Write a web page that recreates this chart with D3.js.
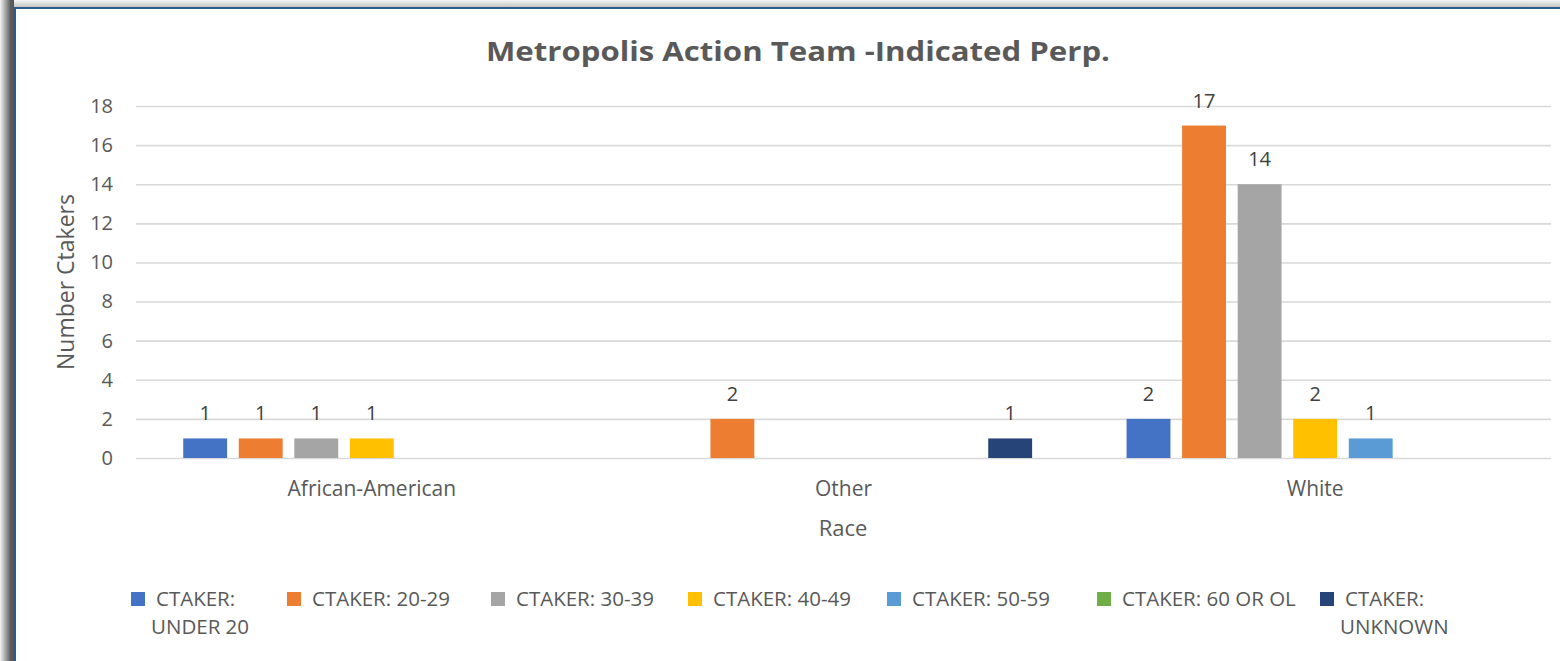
<!DOCTYPE html>
<html><head><meta charset="utf-8">
<script src="https://cdn.jsdelivr.net/npm/d3@7"></script>
<style>
body{margin:0;background:#fff;overflow:hidden;}
svg{display:block;}
text{font-family:"Open Sans",sans-serif;}
</style>
</head><body>
<svg id="chart" width="1560" height="661"></svg>
<script>
// ---------- data ----------
const categories = ["African-American", "Other", "White"];
const seriesNames = ["CTAKER: UNDER 20", "CTAKER: 20-29", "CTAKER: 30-39", "CTAKER: 40-49", "CTAKER: 50-59", "CTAKER: 60 OR OL", "CTAKER: UNKNOWN"];
const under20   = [1, null, 2];
const age20to29 = [1, 2, 17];
const age30to39 = [1, null, 14];
const age40to49 = [1, null, 2];
const age50to59 = [null, null, 1];
const age60plus = [null, null, null];
const unknownAge = [null, 1, null];
const seriesColors = ["#4472C4", "#ED7D31", "#A5A5A5", "#FFC000", "#5B9BD5", "#70AD47", "#264478"];
const legendLines = [["CTAKER:", "UNDER 20"], ["CTAKER: 20-29"], ["CTAKER: 30-39"], ["CTAKER: 40-49"], ["CTAKER: 50-59"], ["CTAKER: 60 OR OL"], ["CTAKER:", "UNKNOWN"]];
const yTicks = [0, 2, 4, 6, 8, 10, 12, 14, 16, 18];
const titleText = "Metropolis Action Team -Indicated Perp.";
const yTitle = "Number Ctakers";
const xTitle = "Race";

const seriesValues = [under20, age20to29, age30to39, age40to49, age50to59, age60plus, unknownAge];

// ---------- layout ----------
const svg = d3.select("#chart");
const plotLeft = 136, plotRight = 1551, plotTop = 106, plotBottom = 458;

// frame shadow + border
const defs = svg.append("defs");
const gl = defs.append("linearGradient").attr("id", "shL").attr("x1", "0").attr("x2", "1").attr("y1", "0").attr("y2", "0");
gl.append("stop").attr("offset", "0").attr("stop-color", "#f4f4f4");
gl.append("stop").attr("offset", "0.45").attr("stop-color", "#9a9a9a");
gl.append("stop").attr("offset", "0.75").attr("stop-color", "#5e5e5e");
gl.append("stop").attr("offset", "1").attr("stop-color", "#555");
const gt = defs.append("linearGradient").attr("id", "shT").attr("x1", "0").attr("x2", "0").attr("y1", "0").attr("y2", "1");
gt.append("stop").attr("offset", "0").attr("stop-color", "#f6f6f6");
gt.append("stop").attr("offset", "1").attr("stop-color", "#c4c4c4");

svg.append("rect").attr("x", 0).attr("y", 0).attr("width", 1560).attr("height", 7).attr("fill", "url(#shT)");
svg.append("rect").attr("x", 0).attr("y", 0).attr("width", 14).attr("height", 661).attr("fill", "url(#shL)");
svg.append("rect").attr("x", 13).attr("y", 7).attr("width", 1547).attr("height", 2).attr("fill", "#2d5b8a");
svg.append("rect").attr("x", 13).attr("y", 7).attr("width", 3).attr("height", 654).attr("fill", "#2d5b8a");

// scales
const x0 = d3.scaleBand().domain(categories).range([plotLeft, plotRight]).padding(0);
const x1 = d3.scaleBand().domain(seriesNames).range([0, x0.bandwidth()]).paddingInner(0.21).paddingOuter(0.85);
const y = d3.scaleLinear().domain([0, 18]).range([plotBottom, plotTop]);

// gridlines + y tick labels
const yAxis = svg.append("g").attr("transform", `translate(${plotLeft},0)`)
  .call(d3.axisLeft(y).tickValues(yTicks).tickSize(-(plotRight - plotLeft)).tickPadding(23));
yAxis.select(".domain").remove();
yAxis.selectAll(".tick line").attr("stroke", "#d9d9d9").attr("stroke-width", 1.6);
yAxis.selectAll(".tick text").attr("fill", "#595959").style("font-size", "20px").style("font-family", "'Open Sans',sans-serif");

// x category labels
const xAxis = svg.append("g").attr("transform", `translate(0,${plotBottom})`)
  .call(d3.axisBottom(x0).tickSize(0).tickPadding(23));
xAxis.select(".domain").remove();
xAxis.selectAll(".tick text").attr("fill", "#595959").style("font-size", "21px").style("font-family", "'Open Sans',sans-serif");

// bars
const rows = [];
seriesValues.forEach((vals, si) => {
  vals.forEach((v, ci) => {
    if (v !== null) rows.push({ cat: categories[ci], s: seriesNames[si], v: v, color: seriesColors[si] });
  });
});
svg.append("g").selectAll("rect").data(rows).join("rect")
  .attr("x", d => x0(d.cat) + x1(d.s))
  .attr("y", d => y(d.v))
  .attr("width", x1.bandwidth())
  .attr("height", d => y(0) - y(d.v))
  .attr("fill", d => d.color);

// data labels
svg.append("g").selectAll("text").data(rows).join("text")
  .attr("x", d => x0(d.cat) + x1(d.s) + x1.bandwidth() / 2)
  .attr("y", d => y(d.v) - 18)
  .attr("text-anchor", "middle")
  .attr("fill", "#404040")
  .style("font-size", "20px")
  .text(d => d.v);

// titles
svg.append("text").attr("x", 798).attr("y", 61).attr("text-anchor", "middle")
  .attr("textLength", 624).attr("lengthAdjust", "spacingAndGlyphs")
  .attr("fill", "#595959").style("font-size", "26px").style("font-weight", "bold").text(titleText);
svg.append("text").attr("transform", `translate(74,${(plotTop + plotBottom) / 2}) rotate(-90)`)
  .attr("text-anchor", "middle").attr("fill", "#595959").style("font-size", "23px").text(yTitle);
svg.append("text").attr("x", (plotLeft + plotRight) / 2 - 0.5).attr("y", 536).attr("text-anchor", "middle")
  .attr("fill", "#595959").style("font-size", "22px").text(xTitle);

// legend
const legendX = [131, 287, 491, 688, 887, 1097, 1320];
const lg = svg.append("g").selectAll("g").data(seriesNames).join("g")
  .attr("transform", (d, i) => `translate(${legendX[i]},592)`);
lg.append("rect").attr("width", 14).attr("height", 14).attr("fill", (d, i) => seriesColors[i]);
lg.each(function (d, i) {
  const g = d3.select(this);
  legendLines[i].forEach((line, li) => {
    g.append("text").attr("x", li === 0 ? 25 : 20).attr("y", 14 + li * 28)
      .attr("fill", "#595959").style("font-size", "20.5px").text(line);
  });
});
</script>
</body></html>
